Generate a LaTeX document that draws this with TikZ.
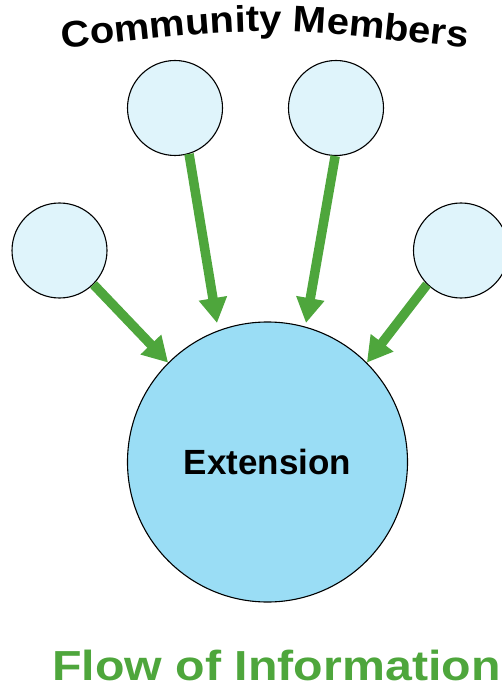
\documentclass[tikz,border=0pt]{standalone}
\usepackage{fontspec}
\setmainfont{Liberation Sans}
\newfontfamily\titlefont[FakeStretch=1.08]{Liberation Sans}
\newfontfamily\flowfont[FakeStretch=1.15]{Liberation Sans}
\usetikzlibrary{arrows.meta,decorations.text}
\definecolor{flowgreen}{RGB}{78,166,60}
\definecolor{memberfill}{RGB}{223,244,251}
\definecolor{hubfill}{RGB}{154,221,245}
\tikzset{
  member/.style={circle, draw=black, line width=1.1pt, fill=memberfill,
                 minimum size=95pt, inner sep=0pt},
  hub/.style={circle, draw=black, line width=1.1pt, fill=hubfill,
              minimum size=280pt, inner sep=0pt,
              font=\bfseries\fontsize{35}{40}\selectfont},
  flowarrow/.style={draw=flowgreen, line width=9.5pt,
                    -{Triangle[length=25pt,width=27pt]}}
}
\begin{document}
\begin{tikzpicture}[x=1pt,y=-1pt]
\useasboundingbox (0,0) rectangle (502,692);

% community members
\node[member] (m1) at (59.5,250.5) {};
\node[member] (m2) at (175,108) {};
\node[member] (m3) at (336,108) {};
\node[member] (m4) at (461,250.5) {};

% extension hub
\node[hub] (ext) at (267.5,462) {Extension};

% arrow tips near the hub
\coordinate (t2) at (217,323);
\coordinate (t3) at (306,323);

% information flowing in
\draw[flowarrow] (m1.-45) -- (ext.135);
\draw[flowarrow] (m2.-73) -- (t2);
\draw[flowarrow] (m3.-91) -- (t3);
\draw[flowarrow] (m4.-135) -- (ext.45);

% arched heading
\path[decorate, decoration={text along path, text align=center,
  text={|\titlefont\bfseries\fontsize{37}{42}\selectfont|Community Members}}]
  (63,48) .. controls (265,26) .. (467,48);

% caption
\node[anchor=base, text=flowgreen, inner sep=0pt,
      font=\flowfont\bfseries\fontsize{42}{48}\selectfont]
  (flow) at (276.5,680.5) {Flow of Information};
\end{tikzpicture}
\end{document}
